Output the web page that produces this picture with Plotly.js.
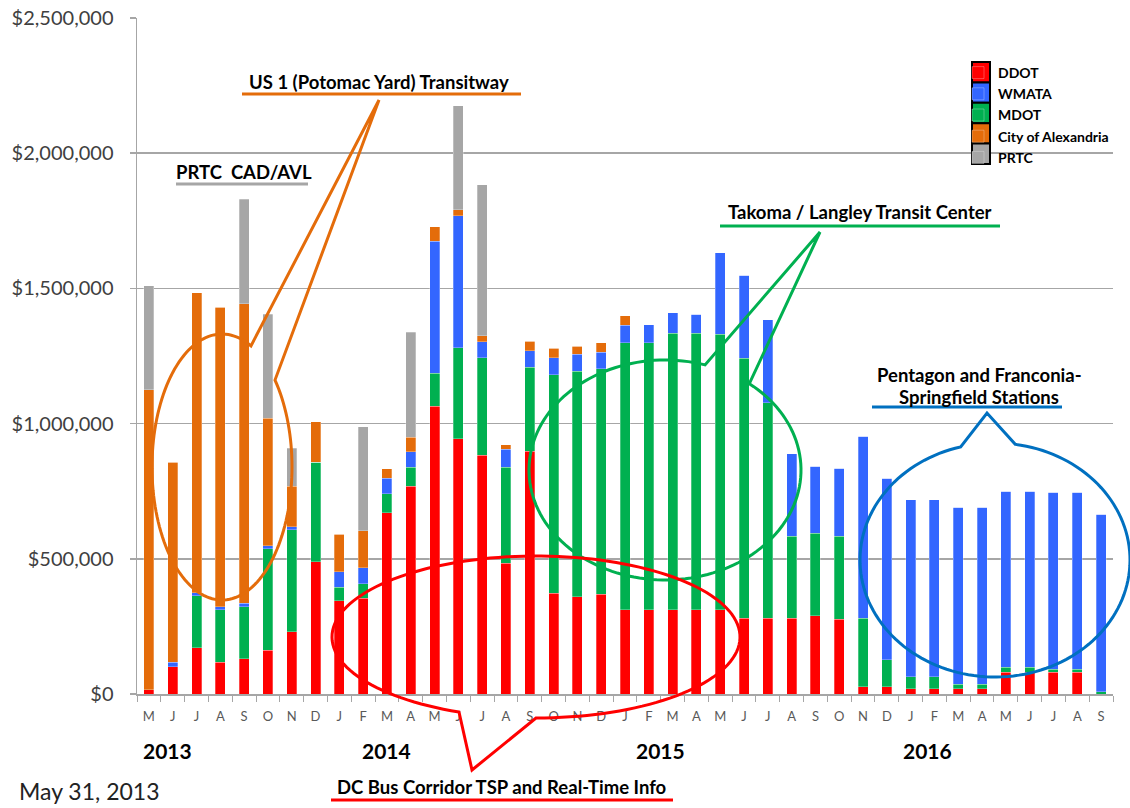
<!DOCTYPE html>
<html>
<head>
<meta charset="utf-8">
<script src="https://cdn.plot.ly/plotly-3.0.1.min.js"></script>
<style>
html,body{margin:0;padding:0;background:#fff;}
#chart{width:1130px;height:808px;}
</style>
</head>
<body>
<div id="chart"></div>
<script>
// ---- data (values in dollars) ----
var categories = [
 "May 2013","Jun 2013","Jul 2013","Aug 2013","Sep 2013","Oct 2013","Nov 2013","Dec 2013",
 "Jan 2014","Feb 2014","Mar 2014","Apr 2014","May 2014","Jun 2014","Jul 2014","Aug 2014","Sep 2014","Oct 2014","Nov 2014","Dec 2014",
 "Jan 2015","Feb 2015","Mar 2015","Apr 2015","May 2015","Jun 2015","Jul 2015","Aug 2015","Sep 2015","Oct 2015","Nov 2015","Dec 2015",
 "Jan 2016","Feb 2016","Mar 2016","Apr 2016","May 2016","Jun 2016","Jul 2016","Aug 2016","Sep 2016"
];
var monthLabels = [
 "M","J","J","A","S","O","N","D",
 "J","F","M","A","M","J","J","A","S","O","N","D",
 "J","F","M","A","M","J","J","A","S","O","N","D",
 "J","F","M","A","M","J","J","A","S"
];
var ddot = [16000,100000,171000,117000,130000,161000,231000,490000,
 344000,355000,671000,768000,1064000,944000,883000,484000,898000,373000,360000,369000,
 311000,311000,311000,311000,311000,280000,280000,280000,289000,277000,27000,27000,
 19000,19000,19000,19000,81000,81000,81000,81000,0];
var mdot = [0,0,192000,194000,192000,377000,377000,367000,
 51000,53000,70000,70000,123000,337000,360000,354000,311000,808000,834000,833000,
 988000,988000,1024000,1024000,1019000,962000,797000,303000,306000,306000,253000,99000,
 44000,44000,18000,18000,18000,18000,10000,10000,9000];
var wmata = [0,18000,11000,12000,14000,10000,10000,0,
 58000,58000,57000,58000,488000,487000,60000,68000,60000,62000,62000,62000,
 64000,66000,75000,70000,302000,306000,307000,305000,247000,252000,673000,672000,
 656000,656000,654000,654000,650000,650000,655000,655000,656000];
var alexandria = [1110000,740000,1110000,1108000,1108000,472000,150000,149000,
 138000,138000,35000,53000,53000,23000,22000,15000,36000,35000,30000,35000,
 35000,0,0,0,0,0,0,0,0,0,0,0,
 0,0,0,0,0,0,0,0,0];
var prtc = [384000,0,0,0,385000,384000,140000,0,
 0,384000,0,389000,0,384000,558000,0,0,0,0,0,
 0,0,0,0,0,0,0,0,0,0,0,0,
 0,0,0,0,0,0,0,0,0];
var yearLabels = ["2013","2014","2015","2016"];
var seriesNames = ["DDOT","WMATA","MDOT","City of Alexandria","PRTC"];
var seriesColors = ["#FF0000","#3366FF","#00B050","#E46C0A","#A6A6A6"];

// ---- geometry helpers (pixel -> paper) ----
var L = 137, R = 17, T = 18, B = 114, W = 1130, H = 808;
var PW = W - L - R, PH = H - T - B;
function px(x){ return (x - L) / PW; }
function py(y){ return (H - B - y) / PH; }

function bubble(cx, cy, rx, ry, a, b, tip){
  var TWO = Math.PI*2;
  var t1 = (Math.atan2((a[1]-cy)/ry, (a[0]-cx)/rx) + TWO) % TWO;
  var t2 = (Math.atan2((b[1]-cy)/ry, (b[0]-cx)/rx) + TWO) % TWO;
  var d = (t2 - t1 + TWO) % TWO;
  var start, span;
  if (d < Math.PI) { start = t2; span = TWO - d; }
  else { start = t1; span = d; }
  var n = 140, s = "";
  for (var i = 0; i <= n; i++) {
    var t = start + span * i / n;
    var x = cx + rx * Math.cos(t), y = cy + ry * Math.sin(t);
    s += (i === 0 ? "M" : "L") + px(x).toFixed(5) + "," + py(y).toFixed(5);
  }
  s += "L" + px(tip[0]).toFixed(5) + "," + py(tip[1]).toFixed(5) + "Z";
  return s;
}
function hline(x0, x1, y, color){
  return {type:"line", xref:"paper", yref:"paper", x0:px(x0), x1:px(x1), y0:py(y), y1:py(y),
          line:{color:color, width:3}};
}
function bubbleShape(path, color){
  return {type:"path", xref:"paper", yref:"paper", path:path, line:{color:color, width:3}, fillcolor:"rgba(0,0,0,0)"};
}
function label(text, x, y, opts){
  opts = opts || {};
  return {xref:"paper", yref:"paper", x:px(x), y:py(y), text:text, showarrow:false,
          xanchor:opts.xanchor || "center", yanchor:"middle",
          font:{family:"Lato, 'Open Sans', sans-serif", size:opts.size || 18.5, color:opts.color || "#000",
                weight: opts.weight || "bold"}};
}

var cOrange = "#E46C0A", cGreen = "#00B050", cRed = "#FF0000", cBlue = "#0070C0", cGray = "#A6A6A6";

function barTrace(name, vals, rank){
  var color = seriesColors[rank-1];
  return {type:"bar", name:name, x:categories, y:vals, legendrank:rank,
          marker:{color:color, line:{color:"rgba(255,255,255,0.35)", width:0.8}},
          hovertemplate:"%{x}: $%{y:,}<extra>"+name+"</extra>"};
}

// stacking order bottom->top: DDOT, MDOT, WMATA, Alexandria, PRTC
var data = [
  barTrace(seriesNames[0], ddot, 1),
  barTrace(seriesNames[2], mdot, 3),
  barTrace(seriesNames[1], wmata, 2),
  barTrace(seriesNames[3], alexandria, 4),
  barTrace(seriesNames[4], prtc, 5)
];

var shapes = [
  bubbleShape(bubble(222, 467, 70, 133, [250, 350], [272, 385], [379, 100]), cOrange),
  hline(242, 521, 94, cOrange),
  hline(176, 308, 184, cGray),
  bubbleShape(bubble(665, 470, 136, 110, [705, 365], [750, 383], [820, 232]), cGreen),
  hline(720, 1000, 226, cGreen),
  bubbleShape(bubble(536, 637, 204, 81, [459, 712], [536, 718], [472, 770]), cRed),
  hline(331, 673, 800, cRed),
  bubbleShape(bubble(995, 560, 135, 117, [961, 448], [1015, 446], [987, 413]), cBlue),
  hline(872, 1062, 407, cBlue)
];
// legend swatch frames (black-bordered squares behind the legend symbols)
for (var i = 0; i < seriesNames.length; i++) {
  shapes.push({type:"rect", xref:"paper", yref:"paper",
    x0:px(972), x1:px(990), y0:py(62 + 20.4*i), y1:py(82.4 + 20.4*i),
    fillcolor:seriesColors[i], line:{color:"#000", width:2}});
}

var annotations = [
  label("US 1 (Potomac Yard) Transitway", 379, 82),
  label("PRTC&nbsp;&nbsp;CAD/AVL", 244, 172),
  label("Takoma / Langley Transit Center", 860, 212),
  label("DC Bus Corridor TSP and Real-Time Info", 502, 787),
  label("Pentagon and Franconia-", 979, 375),
  label("Springfield Stations", 979, 397),
  label(yearLabels[0], 167, 750, {size:21}),
  label(yearLabels[1], 386, 750, {size:21}),
  label(yearLabels[2], 660, 750, {size:21}),
  label(yearLabels[3], 927, 750, {size:21}),
  label("May 31, 2013", 17, 791, {size:23, xanchor:"left", weight:"normal", color:"#222"})
];

var layout = {
  width: W, height: H,
  margin: {l:L, r:R, t:T, b:B, pad:0},
  paper_bgcolor:"#fff", plot_bgcolor:"#fff",
  barmode:"stack", bargap:0.58,
  font:{family:"Lato, 'Open Sans', sans-serif"},
  showlegend:true,
  legend:{x:px(958), y:py(57), xanchor:"left", yanchor:"top", bgcolor:"rgba(0,0,0,0)",
          traceorder:"normal", tracegroupgap:0,
          font:{family:"Lato, sans-serif", size:14, color:"#000", weight:"bold"}},
  xaxis:{type:"category", categoryorder:"array", categoryarray:categories,
         tickmode:"array", tickvals:categories, ticktext:monthLabels, tickson:"boundaries",
         ticks:"outside", ticklen:6, tickcolor:"#A6A6A6", tickwidth:1,
         showline:true, linecolor:"#A6A6A6", linewidth:1.5, showgrid:false,
         tickfont:{size:13, color:"#595959"}, ticklabelstandoff:10, fixedrange:true},
  yaxis:{range:[0,2500000], tick0:0, dtick:500000, tickprefix:"$", tickformat:",d",
         ticks:"outside", ticklen:6, tickcolor:"#A6A6A6", tickwidth:1.5,
         showline:true, linecolor:"#A6A6A6", linewidth:1.5,
         showgrid:true, gridcolor:"#A6A6A6", gridwidth:1.5, zeroline:false,
         tickfont:{size:20, color:"#404040"}, ticklabelstandoff:12, fixedrange:true},
  shapes: shapes,
  annotations: annotations
};

Plotly.newPlot("chart", data, layout, {displayModeBar:false, staticPlot:true});
</script>
</body>
</html>
